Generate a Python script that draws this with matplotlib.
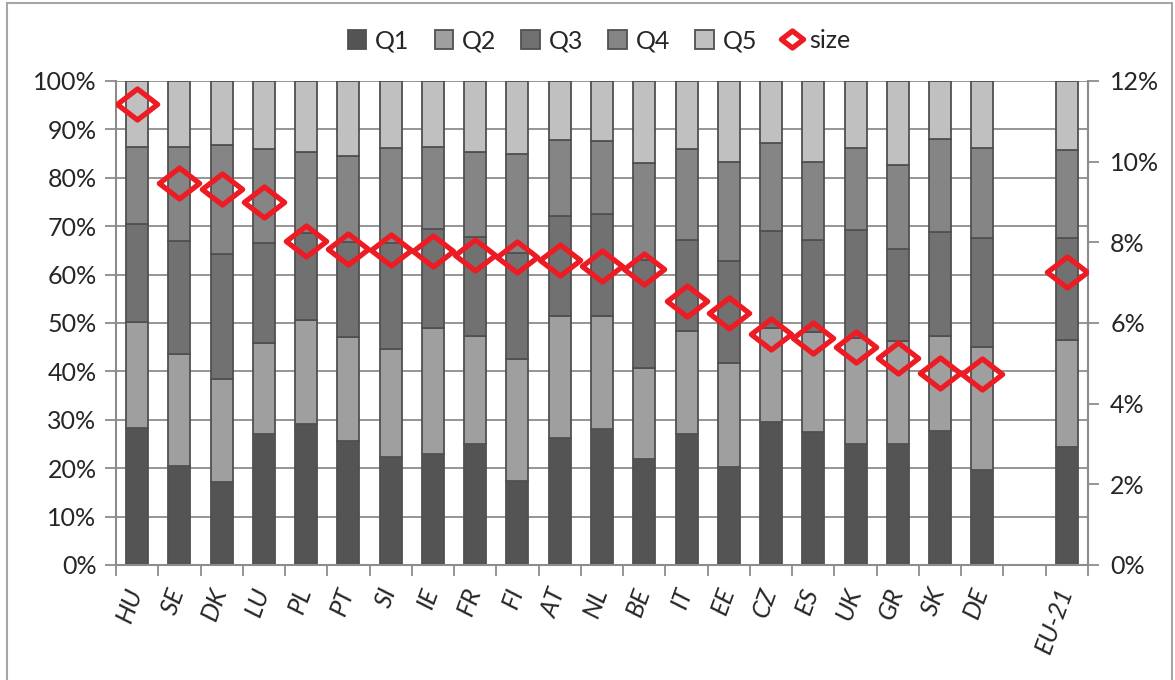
import matplotlib
matplotlib.use("Agg")
import matplotlib.pyplot as plt
import matplotlib.transforms as mtransforms
import numpy as np
from matplotlib.path import Path
from matplotlib.patches import Rectangle
from matplotlib.ticker import PercentFormatter, FixedLocator

# --- Data (shares in %) ---
countries = ["HU", "SE", "DK", "LU", "PL", "PT", "SI", "IE", "FR", "FI", "AT",
             "NL", "BE", "IT", "EE", "CZ", "ES", "UK", "GR", "SK", "DE", "EU-21"]

q1 = [28.3, 20.5, 17.2, 27.1, 29.2, 25.7, 22.4, 22.9, 25.1, 17.4, 26.2,
      28.2, 21.9, 27.0, 20.2, 29.5, 27.5, 24.9, 25.0, 27.7, 19.6, 24.4]
q2 = [21.9, 23.1, 21.2, 18.7, 21.4, 21.5, 22.3, 26.0, 22.3, 25.2, 25.2,
      23.2, 18.7, 21.3, 21.6, 19.4, 20.7, 22.1, 21.2, 19.7, 25.5, 22.1]
q3 = [20.3, 23.3, 25.9, 20.8, 17.9, 19.6, 21.8, 20.6, 20.4, 21.9, 20.7,
      21.1, 22.4, 18.8, 21.0, 20.1, 18.9, 22.2, 19.1, 21.3, 22.4, 21.0]
q4 = [15.9, 19.5, 22.4, 19.4, 16.9, 17.8, 19.6, 16.8, 17.6, 20.4, 15.7,
      15.2, 20.1, 18.8, 20.5, 18.1, 16.1, 16.9, 17.3, 19.3, 18.7, 18.2]
q5 = [13.6, 13.6, 13.3, 14.0, 14.6, 15.4, 13.9, 13.7, 14.6, 15.1, 12.2,
      12.3, 16.9, 14.1, 16.7, 12.9, 16.8, 13.9, 17.4, 12.0, 13.8, 14.3]

size = [11.42, 9.46, 9.31, 9.00, 8.04, 7.83, 7.81, 7.79, 7.69, 7.63, 7.55,
        7.41, 7.34, 6.55, 6.24, 5.72, 5.64, 5.41, 5.12, 4.77, 4.74, 7.26]

series = [q1, q2, q3, q4, q5]
series_names = ["Q1", "Q2", "Q3", "Q4", "Q5"]
colors = ["#545454", "#9f9f9f", "#717171", "#858585", "#c0c0c0"]

# EU-21 sits one empty slot after the countries
pos = np.array(list(range(len(countries) - 1)) + [len(countries)])

plt.rcParams['font.family'] = ['Lato', 'DejaVu Sans']
text_color = "#262626"
grid_color = "#8c8c8c"
fs = 18

fig = plt.figure(figsize=(11.75, 6.8), dpi=100)
ax = fig.add_axes([116 / 1175, 1 - 565 / 680, (1088 - 116) / 1175, (565 - 81) / 680])

# outer chart border
fig.patches.append(Rectangle((7 / 1175, -0.1), (1172 - 7) / 1175, 1.1 - 3 / 680,
                             transform=fig.transFigure, fill=False,
                             edgecolor="#a6a6a6", linewidth=1.5))

bottom = np.zeros(len(countries))
handles = []
for vals, name, col in zip(series, series_names, colors):
    vals = np.array(vals) / 100
    b = ax.bar(pos, vals, bottom=bottom, width=0.52, color=col,
               edgecolor="#505050", linewidth=1.3, label=name, zorder=2)
    handles.append(b)
    bottom += vals

ax.set_xlim(-0.5, len(countries) + 0.5)
ax.set_ylim(0, 1)
ax.yaxis.set_major_locator(FixedLocator(np.arange(0, 1.01, 0.1)))
ax.yaxis.set_major_formatter(PercentFormatter(1.0, decimals=0))
ax.grid(axis="y", color=grid_color, linewidth=1.3, zorder=0)
ax.set_axisbelow(True)

ax.set_xticks(pos)
ax.set_xticklabels(countries, rotation=70, ha="right", rotation_mode="anchor",
                   style="italic", fontsize=fs, color=text_color)
ax.tick_params(axis="x", which="major", length=0, pad=14)
# nudge the rotated labels a bit to the left, as in the reference
shift = mtransforms.ScaledTranslation(-12 / 100, 0, fig.dpi_scale_trans)
for lbl in ax.get_xticklabels():
    lbl.set_transform(lbl.get_transform() + shift)
ax.set_xticks(np.arange(-0.5, len(countries) + 1, 1.0), minor=True)
ax.tick_params(axis="x", which="minor", length=8, width=1.3, color=grid_color)
ax.tick_params(axis="y", length=8, width=1.3, color=grid_color,
               labelsize=fs, labelcolor=text_color, pad=6)

for s in ["left", "bottom", "right"]:
    ax.spines[s].set_color(grid_color)
    ax.spines[s].set_linewidth(1.5)
ax.spines["top"].set_visible(False)

ax2 = ax.twinx()
ax2.set_ylim(0, 0.12)
ax2.yaxis.set_major_locator(FixedLocator(np.arange(0, 0.121, 0.02)))
ax2.yaxis.set_major_formatter(PercentFormatter(1.0, decimals=0))
ax2.tick_params(axis="y", length=8, width=1.3, color=grid_color,
                labelsize=fs, labelcolor=text_color, pad=8)
for s in ["left", "bottom", "top"]:
    ax2.spines[s].set_visible(False)
ax2.spines["right"].set_color(grid_color)
ax2.spines["right"].set_linewidth(1.5)

# wide diamond marker
diamond = Path([(-1.3, 0), (0, 1), (1.3, 0), (0, -1), (-1.3, 0)],
               [Path.MOVETO, Path.LINETO, Path.LINETO, Path.LINETO, Path.CLOSEPOLY])
ln, = ax2.plot(pos, np.array(size) / 100, linestyle="none", marker=diamond,
               markersize=29, markerfacecolor="none", markeredgecolor="#ed1c24",
               markeredgewidth=3.8, label="size", zorder=3)
handles.append(ln)

leg = fig.legend(handles=handles, labels=series_names + ["size"], loc="upper center",
                 bbox_to_anchor=(0.51, 0.99), ncol=6, frameon=False, fontsize=fs,
                 handlelength=0.75, handleheight=0.75, handletextpad=0.35,
                 columnspacing=1.0, markerscale=0.55)
for t in leg.get_texts():
    t.set_color(text_color)

fig.savefig("out.png", dpi=100)
